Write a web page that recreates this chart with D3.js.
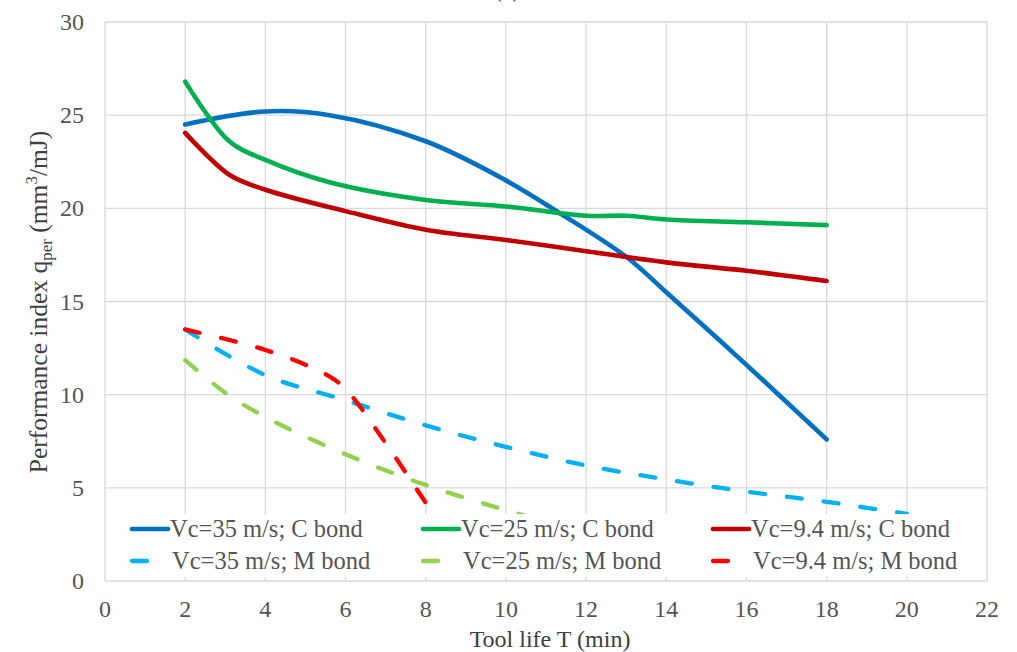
<!DOCTYPE html>
<head>
	<meta charset="utf-8">
	<title>Performance index vs tool life</title>
	<script src="https://d3js.org/d3.v7.min.js"></script>
	<style>
		body { margin: 0; background: #fff; }
		text { font-family: "Liberation Serif", "Times New Roman", serif; }
		.grid line { stroke: #d9d9d9; stroke-width: 1.3px; }
		.tick-label { fill: #555; font-size: 24px; }
		.legend-label { fill: #555; font-size: 24.5px; }
		.axis-title { fill: #404040; font-size: 24px; }
	</style>
</head>
<body>
	<div id="chart"></div>
	<script>
		var
			width = 1017,
			height = 652;

		// data
		var xTicks = [0, 2, 4, 6, 8, 10, 12, 14, 16, 18, 20, 22];
		var yTicks = [0, 5, 10, 15, 20, 25, 30];

		var c35 = [[2, 24.5], [4, 25.2], [5.6, 25.0], [8, 23.6], [10, 21.5], [11.3, 19.8], [13, 17.4], [14, 15.5], [16, 11.6], [18, 7.6]];
		var c25 = [[2, 26.8], [3.1, 23.6], [4, 22.6], [5.6, 21.4], [8, 20.45], [10, 20.1], [12, 19.6], [13, 19.6], [14, 19.4], [16, 19.25], [18, 19.1]];
		var c94 = [[2, 24.05], [3.1, 21.8], [4, 21.0], [6, 19.85], [8, 18.85], [10, 18.3], [12, 17.7], [14, 17.1], [16, 16.65], [18, 16.1]];
		var m35 = [[2, 13.5], [4, 11.05], [6, 9.7], [8, 8.35], [10, 7.2], [12, 6.2], [14, 5.45], [16, 4.8], [18, 4.25], [20, 3.6]];
		var m25 = [[2, 11.85], [3, 10.1], [4, 8.8], [6, 6.8], [8, 5.15], [10, 3.8], [12, 2.6]];
		var m94 = [[2, 13.5], [4, 12.4], [5.5, 11.1], [6, 10.3], [7, 7.4], [8, 4.2]];

		var series = [
			{name: "Vc=35 m/s; C bond", values: c35, color: "#0070c0", dashed: false},
			{name: "Vc=25 m/s; C bond", values: c25, color: "#00b050", dashed: false},
			{name: "Vc=9.4 m/s; C bond", values: c94, color: "#c00000", dashed: false},
			{name: "Vc=35 m/s; M bond", values: m35, color: "#00b0f0", dashed: true},
			{name: "Vc=25 m/s; M bond", values: m25, color: "#92d050", dashed: true},
			{name: "Vc=9.4 m/s; M bond", values: m94, color: "#ff0000", dashed: true}
		];

		var svg = d3.select("#chart")
			.append("svg")
			.attr("width", width)
			.attr("height", height);

		var x = d3.scaleLinear().domain([0, 22]).range([105, 987]);
		var y = d3.scaleLinear().domain([0, 30]).range([581, 22]);

		// panel label, mostly cut off at the top (as in the source figure)
		svg.append("text")
			.attr("x", 507)
			.attr("y", -3)
			.attr("text-anchor", "middle")
			.attr("class", "axis-title")
			.text("(a)");

		var grid = svg.append("g").attr("class", "grid");
		grid.selectAll(".vx")
			.data(xTicks)
			.enter().append("line")
			.attr("x1", function(d) { return x(d); })
			.attr("x2", function(d) { return x(d); })
			.attr("y1", y(30))
			.attr("y2", y(0));
		grid.selectAll(".hy")
			.data(yTicks)
			.enter().append("line")
			.attr("x1", x(0))
			.attr("x2", x(22))
			.attr("y1", function(d) { return y(d); })
			.attr("y2", function(d) { return y(d); });

		// tick labels
		svg.append("g").selectAll("text")
			.data(xTicks)
			.enter().append("text")
			.attr("class", "tick-label")
			.attr("x", function(d) { return x(d); })
			.attr("y", 617)
			.attr("text-anchor", "middle")
			.text(function(d) { return d; });

		svg.append("g").selectAll("text")
			.data(yTicks)
			.enter().append("text")
			.attr("class", "tick-label")
			.attr("x", 84)
			.attr("y", function(d) { return y(d) + 8; })
			.attr("text-anchor", "end")
			.text(function(d) { return d; });

		// curves
		var line = d3.line()
			.x(function(d) { return x(d[0]); })
			.y(function(d) { return y(d[1]); })
			.curve(d3.curveCatmullRom.alpha(0.5));

		svg.append("g").selectAll("path")
			.data(series)
			.enter().append("path")
			.attr("d", function(d) { return line(d.values); })
			.attr("fill", "none")
			.attr("stroke", function(d) { return d.color; })
			.attr("stroke-width", function(d) { return d.dashed ? 4.3 : 4.6; })
			.attr("stroke-linecap", "round")
			.attr("stroke-linejoin", "round")
			.attr("stroke-dasharray", function(d) { return d.dashed ? "15,22" : null; });

		// legend (white box over the bottom of the plot)
		var legend = svg.append("g");
		legend.append("rect")
			.attr("x", 107)
			.attr("y", 514)
			.attr("width", 878)
			.attr("height", 63)
			.attr("fill", "#fff");

		var colX = [130, 421, 711];
		var rowY = [529, 561];

		var item = legend.selectAll(".item")
			.data(series)
			.enter().append("g")
			.attr("transform", function(d, i) {
				return "translate(" + colX[i % 3] + "," + rowY[Math.floor(i / 3)] + ")";
			});

		item.append("line")
			.attr("x1", 2)
			.attr("x2", 38)
			.attr("y1", 0)
			.attr("y2", 0)
			.attr("stroke", function(d) { return d.color; })
			.attr("stroke-width", function(d) { return d.dashed ? 4.3 : 4.6; })
			.attr("stroke-linecap", "round")
			.attr("stroke-dasharray", function(d) { return d.dashed ? "15,22" : null; });

		item.append("text")
			.attr("class", "legend-label")
			.attr("x", function(d) { return d.dashed ? 42 : 40; })
			.attr("y", 8)
			.text(function(d) { return d.name; });

		// axis titles
		svg.append("text")
			.attr("class", "axis-title")
			.attr("x", 550)
			.attr("y", 647)
			.attr("text-anchor", "middle")
			.text("Tool life T (min)");

		var yt = svg.append("text")
			.attr("class", "axis-title")
			.attr("font-size", 25.5)
			.style("font-size", "25.5px")
			.attr("text-anchor", "middle")
			.attr("transform", "translate(47,302) rotate(-90)");
		yt.append("tspan").text("Performance index q");
		yt.append("tspan").style("font-size", "17px").attr("dy", 5).text("per");
		yt.append("tspan").attr("dy", -5).text(" (mm");
		yt.append("tspan").style("font-size", "17px").attr("dy", -10).text("3");
		yt.append("tspan").attr("dy", 10).text("/mJ)");
	</script>
</body>
